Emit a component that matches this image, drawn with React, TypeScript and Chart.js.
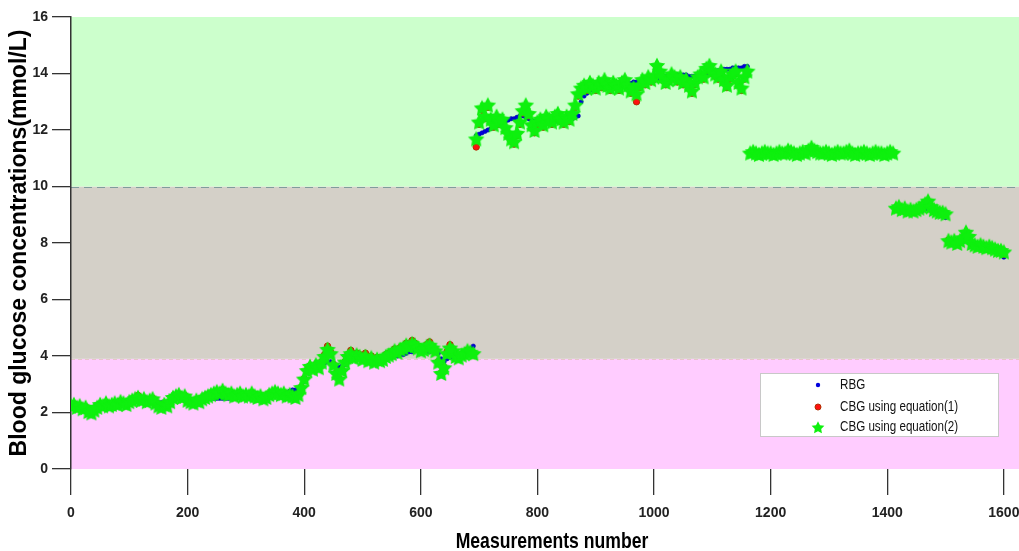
import { useEffect, useRef } from "react";
import { Chart, registerables } from "chart.js";

Chart.register(...registerables);

// measurement numbers are 0, 5, 10, ... 1600
const measurementStep = 5;

const rbg = [
  // 0 - 395
  2.25, 2.25, 2.2, 2.2, 2.2, 2.15, 2.15, 2.15, 2.2, 2.2,
  2.25, 2.25, 2.3, 2.3, 2.3, 2.3, 2.35, 2.35, 2.35, 2.35,
  2.35, 2.4, 2.4, 2.4, 2.4, 2.4, 2.4, 2.4, 2.4, 2.35,
  2.35, 2.35, 2.35, 2.35, 2.4, 2.45, 2.5, 2.5, 2.5, 2.5,
  2.45, 2.45, 2.45, 2.45, 2.45, 2.45, 2.5, 2.5, 2.5, 2.5,
  2.5, 2.5, 2.5, 2.5, 2.5, 2.55, 2.55, 2.55, 2.55, 2.6,
  2.6, 2.6, 2.6, 2.6, 2.6, 2.6, 2.6, 2.6, 2.6, 2.6,
  2.65, 2.65, 2.65, 2.7, 2.7, 2.75, 2.8, 2.8, 2.85, 2.85,
  // 400 - 690
  3.1, 3.4, 3.55, 3.6, 3.6, 3.65, 3.7, 3.75, 3.8, 3.8,
  3.75, 3.65, 3.6, 3.65, 3.7, 3.8, 3.9, 3.95, 4.0, 4.0,
  3.95, 3.95, 3.9, 3.9, 3.9, 3.9, 3.9, 3.9, 3.95, 3.95,
  3.95, 4.0, 4.0, 4.05, 4.05, 4.1, 4.15, 4.15, 4.2, 4.2,
  4.2, 4.2, 4.15, 4.15, 4.2, 4.15, 4.1, 3.9, 3.8, 3.9,
  3.95, 4.0, 4.0, 4.0, 4.05, 4.1, 4.15, 4.25, 4.35,
  // 695 - 1160
  11.8, 11.85, 11.9, 11.95, 12.0, 12.05, 12.1, 12.15, 12.2, 12.25,
  12.3, 12.35, 12.4, 12.4, 12.45, 12.5, 12.5, 12.45, 12.4, 12.35,
  12.3, 12.35, 12.4, 12.4, 12.45, 12.45, 12.4, 12.35, 12.3, 12.3,
  12.35, 12.35, 12.4, 12.4, 12.45, 12.5, 13.0, 13.2, 13.3, 13.4,
  13.45, 13.5, 13.5, 13.5, 13.55, 13.55, 13.6, 13.6, 13.6, 13.6,
  13.6, 13.65, 13.65, 13.65, 13.7, 13.7, 13.7, 13.65, 13.7, 13.7,
  13.7, 13.75, 13.8, 13.85, 13.85, 13.9, 13.9, 13.9, 13.9, 13.95,
  13.95, 13.95, 13.95, 13.9, 13.9, 13.9, 13.95, 14.0, 14.0, 14.0,
  14.05, 14.05, 14.1, 14.1, 14.1, 14.15, 14.15, 14.15, 14.2, 14.2,
  14.2, 14.2, 14.25, 14.25,
  // 1165 - 1410
  11.2, 11.2, 11.2, 11.2, 11.2, 11.2, 11.2, 11.2, 11.2, 11.2,
  11.2, 11.2, 11.2, 11.25, 11.25, 11.2, 11.2, 11.2, 11.2, 11.2,
  11.25, 11.3, 11.25, 11.2, 11.2, 11.2, 11.2, 11.2, 11.2, 11.2,
  11.2, 11.2, 11.2, 11.2, 11.25, 11.2, 11.2, 11.2, 11.2, 11.2,
  11.2, 11.2, 11.2, 11.2, 11.2, 11.2, 11.2, 11.2, 11.2, 11.2,
  // 1415 - 1500
  9.2, 9.2, 9.2, 9.2, 9.15, 9.15, 9.15, 9.15, 9.15, 9.15,
  9.2, 9.2, 9.15, 9.1, 9.05, 9.0, 8.95, 8.9,
  // 1505 - 1600
  8.05, 8.05, 8.05, 8.0, 8.0, 8.05, 8.1, 8.05, 8.0, 7.95,
  7.95, 7.9, 7.9, 7.85, 7.85, 7.8, 7.75, 7.7, 7.6, 7.5,
];

const cbgEq1 = [
  // 0 - 395
  2.25, 2.3, 2.2, 2.25, 2.15, 2.2, 2.1, 2.0, 2.1, 2.2,
  2.3, 2.25, 2.35, 2.25, 2.3, 2.35, 2.3, 2.4, 2.35, 2.3,
  2.4, 2.45, 2.5, 2.6, 2.45, 2.5, 2.4, 2.45, 2.5, 2.35,
  2.25, 2.2, 2.3, 2.25, 2.4, 2.55, 2.6, 2.65, 2.55, 2.6,
  2.45, 2.4, 2.35, 2.45, 2.4, 2.5, 2.55, 2.6, 2.65, 2.7,
  2.75, 2.7, 2.8, 2.7, 2.65, 2.7, 2.6, 2.65, 2.7, 2.6,
  2.65, 2.6, 2.7, 2.6, 2.55, 2.6, 2.5, 2.55, 2.65, 2.7,
  2.75, 2.7, 2.65, 2.7, 2.6, 2.65, 2.6, 2.55, 2.65, 2.9,
  // 400 - 690
  3.2, 3.5, 3.65, 3.55, 3.7, 3.6, 3.8, 4.05, 4.35, 4.15,
  3.7, 3.4, 3.2, 3.5, 3.8, 4.05, 4.2, 4.0, 4.1, 4.05,
  4.0, 4.1, 3.9, 4.0, 3.85, 3.95, 3.9, 3.95, 4.05, 4.1,
  4.15, 4.25, 4.2, 4.3, 4.35, 4.45, 4.4, 4.55, 4.45, 4.35,
  4.25, 4.3, 4.4, 4.5, 4.35, 4.2, 3.8, 3.4, 3.6, 4.15,
  4.4, 4.25, 4.0, 3.95, 4.05, 4.1, 4.2, 4.15, 4.1,
  // 695 - 1160
  11.4, 12.2, 12.7, 12.4, 12.8, 12.3, 12.1, 12.4, 12.2, 12.3,
  12.0, 11.8, 11.6, 11.5, 11.8, 12.2, 12.6, 12.8, 12.5, 12.1,
  11.9, 12.2, 12.3, 12.1, 12.4, 12.3, 12.2, 12.4, 12.5, 12.3,
  12.2, 12.35, 12.3, 12.5, 12.8, 13.2, 13.4, 13.5, 13.4, 13.6,
  13.5, 13.4, 13.6, 13.5, 13.7, 13.5, 13.4, 13.6, 13.5, 13.4,
  13.6, 13.7, 13.5, 13.3, 13.4, 13.0, 13.5, 13.7, 13.6, 13.8,
  13.7, 13.8, 14.2, 14.0, 13.8, 13.6, 13.7, 13.9, 13.8, 13.7,
  13.8, 13.6, 13.7, 13.5, 13.3, 13.6, 13.8, 13.9, 13.8, 14.1,
  14.2, 14.0, 13.9, 13.8, 14.0, 13.7, 13.5, 13.8, 13.9, 14.0,
  13.6, 13.4, 13.8, 14.0,
  // 1165 - 1410
  11.2, 11.2, 11.2, 11.15, 11.2, 11.2, 11.2, 11.2, 11.15, 11.2,
  11.2, 11.2, 11.2, 11.25, 11.2, 11.2, 11.15, 11.2, 11.2, 11.2,
  11.25, 11.35, 11.25, 11.2, 11.2, 11.2, 11.2, 11.2, 11.15, 11.2,
  11.2, 11.2, 11.2, 11.2, 11.25, 11.2, 11.15, 11.2, 11.2, 11.2,
  11.2, 11.15, 11.2, 11.2, 11.2, 11.2, 11.15, 11.2, 11.2, 11.2,
  // 1415 - 1500
  9.25, 9.25, 9.2, 9.2, 9.15, 9.2, 9.15, 9.2, 9.2, 9.25,
  9.35, 9.45, 9.25, 9.2, 9.15, 9.1, 9.05, 9.0,
  // 1505 - 1600
  8.1, 8.05, 8.05, 8.0, 8.05, 8.15, 8.35, 8.2, 8.0, 7.95,
  7.9, 7.9, 7.9, 7.85, 7.85, 7.8, 7.75, 7.7, 7.7, 7.6,
];

const cbgEq2 = [
  // 0 - 395
  2.25, 2.3, 2.2, 2.25, 2.15, 2.2, 2.05, 2.0, 2.1, 2.2,
  2.3, 2.25, 2.35, 2.25, 2.3, 2.35, 2.3, 2.4, 2.35, 2.3,
  2.4, 2.45, 2.5, 2.55, 2.45, 2.5, 2.4, 2.45, 2.5, 2.35,
  2.25, 2.2, 2.3, 2.25, 2.4, 2.55, 2.6, 2.65, 2.55, 2.6,
  2.45, 2.4, 2.35, 2.45, 2.4, 2.5, 2.55, 2.6, 2.65, 2.7,
  2.75, 2.7, 2.8, 2.7, 2.65, 2.7, 2.6, 2.65, 2.7, 2.6,
  2.65, 2.6, 2.7, 2.6, 2.55, 2.6, 2.5, 2.55, 2.65, 2.7,
  2.75, 2.7, 2.65, 2.7, 2.6, 2.65, 2.6, 2.55, 2.65, 2.9,
  // 400 - 690
  3.2, 3.5, 3.65, 3.55, 3.7, 3.6, 3.8, 4.0, 4.25, 4.1,
  3.7, 3.4, 3.2, 3.5, 3.8, 4.0, 4.1, 3.95, 4.05, 4.0,
  3.9, 4.0, 3.85, 3.95, 3.8, 3.9, 3.85, 3.9, 4.0, 4.05,
  4.1, 4.2, 4.15, 4.25, 4.3, 4.4, 4.35, 4.45, 4.4, 4.3,
  4.2, 4.25, 4.35, 4.4, 4.3, 4.2, 3.8, 3.4, 3.6, 4.1,
  4.3, 4.2, 4.0, 3.95, 4.05, 4.1, 4.2, 4.15, 4.1,
  // 695 - 1160
  11.7, 12.3, 12.8, 12.5, 12.9, 12.4, 12.2, 12.5, 12.3, 12.4,
  12.1, 11.9, 11.7, 11.6, 11.9, 12.3, 12.7, 12.9, 12.6, 12.2,
  12.0, 12.3, 12.4, 12.2, 12.5, 12.4, 12.3, 12.5, 12.6, 12.4,
  12.3, 12.5, 12.4, 12.6, 12.9, 13.3, 13.5, 13.6, 13.5, 13.7,
  13.6, 13.5, 13.7, 13.6, 13.8, 13.6, 13.5, 13.7, 13.6, 13.5,
  13.7, 13.8, 13.6, 13.4, 13.5, 13.3, 13.6, 13.8, 13.7, 13.9,
  13.8, 13.9, 14.3, 14.1, 13.9, 13.7, 13.8, 14.0, 13.9, 13.8,
  13.9, 13.7, 13.8, 13.6, 13.4, 13.7, 13.9, 14.0, 13.9, 14.2,
  14.3, 14.1, 14.0, 13.9, 14.1, 13.8, 13.6, 13.9, 14.0, 14.1,
  13.7, 13.5, 13.9, 14.1,
  // 1165 - 1410
  11.2, 11.25, 11.2, 11.15, 11.2, 11.25, 11.2, 11.2, 11.15, 11.2,
  11.25, 11.2, 11.2, 11.3, 11.25, 11.2, 11.15, 11.2, 11.25, 11.2,
  11.3, 11.4, 11.3, 11.25, 11.2, 11.2, 11.25, 11.2, 11.15, 11.2,
  11.25, 11.2, 11.2, 11.25, 11.3, 11.2, 11.15, 11.2, 11.2, 11.25,
  11.2, 11.15, 11.2, 11.25, 11.2, 11.2, 11.15, 11.2, 11.25, 11.2,
  // 1415 - 1500
  9.25, 9.3, 9.2, 9.25, 9.15, 9.2, 9.15, 9.2, 9.25, 9.3,
  9.4, 9.5, 9.3, 9.2, 9.15, 9.1, 9.1, 9.05,
  // 1505 - 1600
  8.1, 8.05, 8.1, 8.0, 8.1, 8.2, 8.4, 8.25, 8.0, 7.95,
  7.9, 7.95, 7.9, 7.85, 7.9, 7.85, 7.8, 7.75, 7.75, 7.7,
];

const seriesNames = ["RBG", "CBG using equation(1)", "CBG using equation(2)"];
const xTickValues = [0, 200, 400, 600, 800, 1000, 1200, 1400, 1600];
const yTickValues = [0, 2, 4, 6, 8, 10, 12, 14, 16];
const xAxisTitle = "Measurements number";
const yAxisTitle = "Blood glucose concentrations(mmol/L)";
const xMax = 1626;
const yMax = 16;
// glucose range limits (mmol/L): low / normal / high
const rangeLimits = [0, 3.9, 10, 16];

const FONT = "'Liberation Sans', Arial, sans-serif";
const BAND_COLORS = ["#ffccff", "#d4d0c8", "#ccffcc"];
const SQUEEZE = 0.8;

function toPoints(values: number[]) {
  return values.map((y, i) => ({ x: i * measurementStep, y }));
}

function makeStar(size: number, color: string) {
  const c = document.createElement("canvas");
  c.width = size;
  c.height = size;
  const ctx = c.getContext("2d")!;
  const cx = size / 2;
  const cy = size / 2;
  const ro = size / 2 - 0.3;
  const ri = ro * 0.5;
  ctx.beginPath();
  for (let k = 0; k < 10; k++) {
    const r = k % 2 === 0 ? ro : ri;
    const a = -Math.PI / 2 + (k * Math.PI) / 5;
    const px = cx + r * Math.cos(a);
    const py = cy + r * Math.sin(a) + size * 0.06;
    if (k === 0) ctx.moveTo(px, py);
    else ctx.lineTo(px, py);
  }
  ctx.closePath();
  ctx.fillStyle = color;
  ctx.fill();
  return c;
}

export default function App() {
  const ref = useRef<HTMLCanvasElement | null>(null);

  useEffect(() => {
    if (!ref.current) return;
    const star = makeStar(18, "#0ef00e");
    const legendStar = makeStar(14, "#0ef00e");

    const bandPlugin = {
      id: "bands",
      beforeDraw(chart: any) {
        const { ctx, chartArea } = chart;
        const y = chart.scales.y;
        ctx.save();
        for (let i = 0; i < rangeLimits.length - 1; i++) {
          const top = y.getPixelForValue(rangeLimits[i + 1]);
          const bottom = y.getPixelForValue(rangeLimits[i]);
          ctx.fillStyle = BAND_COLORS[i];
          ctx.fillRect(chartArea.left, top, chart.width - chartArea.left, bottom - top);
        }
        const y10 = Math.round(y.getPixelForValue(rangeLimits[2])) + 0.5;
        ctx.setLineDash([8, 5]);
        ctx.lineWidth = 1.2;
        ctx.strokeStyle = "#7f9c9c";
        ctx.beginPath();
        ctx.moveTo(chartArea.left, y10);
        ctx.lineTo(chart.width, y10);
        ctx.stroke();
        const y39 = Math.round(y.getPixelForValue(rangeLimits[1])) + 0.5;
        ctx.strokeStyle = "#e8c4cc";
        ctx.setLineDash([4, 3]);
        ctx.beginPath();
        ctx.moveTo(chartArea.left, y39);
        ctx.lineTo(chart.width, y39);
        ctx.stroke();
        ctx.restore();
      },
    };

    const textPlugin = {
      id: "squeezedText",
      afterDraw(chart: any) {
        const { ctx, chartArea } = chart;
        ctx.save();
        // x axis title
        const cx = (chartArea.left + chartArea.right) / 2 + 7;
        ctx.font = `bold 22px ${FONT}`;
        ctx.fillStyle = "#000";
        ctx.textAlign = "center";
        ctx.textBaseline = "alphabetic";
        ctx.save();
        ctx.translate(cx, 548);
        ctx.scale(SQUEEZE, 1);
        ctx.fillText(xAxisTitle, 0, 0);
        ctx.restore();

        // legend inside the plot
        const bx = chartArea.right - 259;
        const by = chartArea.bottom - 96;
        const bw = 238;
        const bh = 63;
        ctx.fillStyle = "#ffffff";
        ctx.fillRect(bx, by, bw, bh);
        ctx.strokeStyle = "#c8c8c8";
        ctx.lineWidth = 1;
        ctx.strokeRect(bx + 0.5, by + 0.5, bw, bh);
        const mx = bx + 58;
        const tx = bx + 80;
        const rows = [by + 12, by + 34, by + 54];
        ctx.font = `14px ${FONT}`;
        ctx.textBaseline = "middle";
        ctx.textAlign = "left";
        seriesNames.forEach((name, i) => {
          ctx.save();
          ctx.translate(tx, rows[i]);
          ctx.scale(0.83, 1);
          ctx.fillStyle = "#111";
          ctx.fillText(name, 0, 0);
          ctx.restore();
        });
        ctx.beginPath();
        ctx.arc(mx, rows[0], 2.2, 0, Math.PI * 2);
        ctx.fillStyle = "#0000dd";
        ctx.fill();
        ctx.beginPath();
        ctx.arc(mx, rows[1], 3.0, 0, Math.PI * 2);
        ctx.fillStyle = "#ff1010";
        ctx.fill();
        ctx.strokeStyle = "#b03000";
        ctx.lineWidth = 1;
        ctx.stroke();
        ctx.drawImage(legendStar, mx - 7, rows[2] - 7);
        ctx.restore();
      },
    };

    const chart = new Chart(ref.current, {
      type: "scatter",
      data: {
        datasets: [
          {
            label: seriesNames[0],
            data: toPoints(rbg),
            order: 2,
            pointStyle: "circle",
            pointRadius: 2.2,
            pointBackgroundColor: "#0000dd",
            pointBorderColor: "#0000aa",
            pointBorderWidth: 0.5,
            showLine: false,
          },
          {
            label: seriesNames[1],
            data: toPoints(cbgEq1),
            order: 1,
            pointStyle: "circle",
            pointRadius: 3.2,
            pointBackgroundColor: "#ff1010",
            pointBorderColor: "#b03000",
            pointBorderWidth: 1,
            showLine: false,
          },
          {
            label: seriesNames[2],
            data: toPoints(cbgEq2),
            order: 0,
            pointStyle: star as any,
            pointRadius: 9,
            showLine: false,
          },
        ],
      },
      options: {
        animation: false,
        responsive: false,
        maintainAspectRatio: false,
        events: [],
        layout: { autoPadding: false, padding: { top: 17, left: 0, right: 0, bottom: 0 } },
        plugins: {
          legend: { display: false },
          tooltip: { enabled: false },
        },
        scales: {
          x: {
            type: "linear",
            min: 0,
            max: xMax,
            afterBuildTicks: (s: any) => {
              s.ticks = xTickValues.map((v) => ({ value: v }));
            },
            afterFit: (s: any) => {
              s.height = 82;
              s.paddingLeft = 0;
              s.paddingRight = 0;
              if (s._margins) s._margins.right = 0;
            },
            grid: {
              display: true,
              drawOnChartArea: false,
              drawTicks: true,
              tickLength: 26,
              color: "#333",
              lineWidth: 1.3,
            },
            border: { display: false },
            ticks: {
              padding: 10,
              color: "#222",
              autoSkip: false,
              maxRotation: 0,
              callback: (v: any) => String(v),
              font: { family: FONT, size: 14, weight: "bold" },
            },
            title: { display: false },
          },
          y: {
            type: "linear",
            min: 0,
            max: yMax,
            afterBuildTicks: (s: any) => {
              s.ticks = yTickValues.map((v) => ({ value: v }));
            },
            afterFit: (s: any) => {
              s.width = 71;
              s.paddingTop = 0;
              s.paddingBottom = 0;
            },
            grid: {
              display: true,
              drawOnChartArea: false,
              drawTicks: true,
              tickLength: 19,
              color: "#333",
              lineWidth: 1.3,
            },
            border: { display: true, color: "#333", width: 1.5 },
            ticks: {
              padding: 4,
              color: "#222",
              callback: (v: any) => String(v),
              font: { family: FONT, size: 14, weight: "bold" },
            },
            title: {
              display: true,
              text: yAxisTitle,
              color: "#000",
              font: { family: FONT, size: 23, weight: "bold", lineHeight: 1 },
              padding: { top: 8, bottom: 0 },
            },
          },
        },
      },
      plugins: [bandPlugin, textPlugin],
    });
    return () => chart.destroy();
  }, []);

  return (
    <div style={{ position: "fixed", left: 0, top: 0, width: 1019, height: 551, background: "#fff" }}>
      <canvas ref={ref} width={1019} height={551} style={{ display: "block", width: 1019, height: 551 }} />
    </div>
  );
}
